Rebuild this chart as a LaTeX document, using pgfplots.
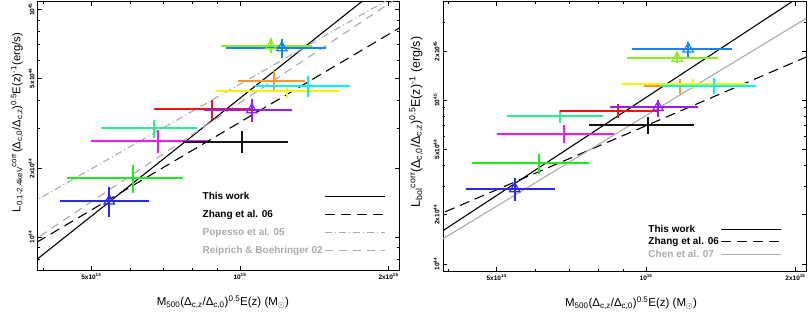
\documentclass[border=0pt]{standalone}
\usepackage{fontspec}
\setmainfont{Liberation Sans}
\usepackage{pgfplots}
\pgfplotsset{compat=1.18}
\definecolor{cblue}{RGB}{40,40,245}
\definecolor{cgreen}{RGB}{30,235,30}
\definecolor{cspring}{RGB}{40,240,140}
\definecolor{cmag}{RGB}{250,20,250}
\definecolor{cblack}{RGB}{20,20,20}
\definecolor{cred}{RGB}{240,20,20}
\definecolor{cpurple}{RGB}{150,30,250}
\definecolor{cyellow}{RGB}{245,245,0}
\definecolor{corange}{RGB}{255,150,40}
\definecolor{ccyan}{RGB}{0,245,245}
\definecolor{cchart}{RGB}{140,235,30}
\definecolor{cdodger}{RGB}{20,130,250}
\definecolor{lgray}{RGB}{170,170,170}
% #1 colour, #2 x, #3 y, #4 x low, #5 x high, #6 y low, #7 y high
\newcommand{\datapt}[7]{%
\addplot[forget plot, color=#1, line width=2pt] coordinates {(#4,#3) (#5,#3)};
\addplot[forget plot, color=#1, line width=2pt] coordinates {(#2,#6) (#2,#7)};}
\newcommand{\tri}[3]{%
\addplot[forget plot, color=#1, only marks, mark=triangle, mark size=6pt, mark options={solid, line width=1.2pt}] coordinates {(#2,#3)};}
\begin{document}
\begin{tikzpicture}
\path[use as bounding box] (0pt,0pt) rectangle (809pt,314pt);
% ---------------- left panel ----------------
\begin{axis}[at={(38pt,44pt)}, anchor=south west, width=361pt, height=268pt,
  scale only axis, xmode=log, ymode=log, xmin=0.39, xmax=2.1,
  tick align=inside, tick pos=both, major tick length=4pt, minor tick length=2.5pt,
  every tick/.style={black, line width=0.8pt}, axis line style={line width=1pt},
  xtick={0.5,1,2}, xticklabels={5x10\textsuperscript{14},10\textsuperscript{15},2x10\textsuperscript{15}},
  minor xtick={0.4,0.6,0.7,0.8,0.9},
  tick label style={font=\bfseries\fontsize{6.5}{7}\selectfont},
  yticklabel style={rotate=90, anchor=south},
  legend cell align=left, legend plot pos=right,
  legend image code/.code={\draw[#1] (0pt,0pt) -- (60pt,0pt);},
  legend style={draw=none, fill=none, font=\bfseries\fontsize{10}{12}\selectfont, row sep=5.5pt, inner sep=0pt,
    at={(0.45,0.30)}, anchor=north west},
  ymin=0.716, ymax=10.8,
  ytick={1,2,5,10}, yticklabels={10\textsuperscript{44},2x10\textsuperscript{44},5x10\textsuperscript{44},10\textsuperscript{45}},
  minor ytick={0.8,0.9,3,4,6,7,8,9},
  xlabel={M\textsubscript{500}(Δ\textsubscript{c,z}/Δ\textsubscript{c,0})\textsuperscript{0.5}E(z) (M\textsubscript{$\odot$})},
  xlabel style={at={(axis description cs:0.512,-0.12)}, anchor=center, font=\fontsize{11.5}{13}\selectfont},
  ylabel={L\textsubscript{0.1-2.4keV}\textsuperscript{corr}(Δ\textsubscript{c,0}/Δ\textsubscript{c,z})\textsuperscript{0.5}E(z)\textsuperscript{-1}(erg/s)},
  ylabel style={at={(axis description cs:-0.058,0.55)}, anchor=center, font=\fontsize{11.3}{12}\selectfont}]
\addplot[black, line width=1.1pt] coordinates {(0.3,0.512) (3,27.04)};
\addlegendentry{This work}
\addplot[black, line width=1.1pt, dash pattern=on 10pt off 6pt] coordinates {(0.3,0.682) (3,13.09)};
\addlegendentry{Zhang et al. 06}
\addplot[lgray, line width=1.1pt, dash pattern=on 7pt off 3pt on 1pt off 3pt] coordinates {(0.3,1.059) (3,18.32)};
\addlegendentry{\textcolor{lgray}{Popesso et al. 05}}
\addplot[lgray, line width=1.1pt, dash pattern=on 8pt off 6pt] coordinates {(0.3,0.682) (3,19.05)};
\addlegendentry{\textcolor{lgray}{Reiprich \& Boehringer 02}}
\datapt{cblue}{0.544}{1.44}{0.433}{0.655}{1.225}{1.66}
\tri{cblue}{0.544}{1.44}
\datapt{cgreen}{0.608}{1.82}{0.447}{0.767}{1.56}{2.08}
\datapt{cspring}{0.670}{3.02}{0.524}{0.818}{2.73}{3.28}
\datapt{cmag}{0.683}{2.65}{0.500}{0.862}{2.34}{2.96}
\datapt{cred}{0.878}{3.66}{0.670}{1.062}{3.28}{4.01}
\datapt{cblack}{1.009}{2.62}{0.767}{1.25}{2.34}{2.93}
\datapt{cpurple}{1.057}{3.63}{0.846}{1.274}{3.21}{4.06}
\tri{cpurple}{1.057}{3.63}
\datapt{cchart}{1.155}{6.94}{0.915}{1.398}{6.47}{7.53}
\tri{cchart}{1.155}{6.94}
\datapt{cdodger}{1.216}{6.80}{0.937}{1.492}{6.14}{7.45}
\tri{cdodger}{1.216}{6.80}
\datapt{corange}{1.171}{4.87}{0.991}{1.353}{4.35}{5.39}
\datapt{cyellow}{1.244}{4.40}{0.894}{1.592}{4.10}{4.67}
\datapt{ccyan}{1.372}{4.63}{1.072}{1.668}{4.14}{5.12}
\end{axis}
% ---------------- right panel ----------------
\begin{axis}[at={(443pt,43pt)}, anchor=south west, width=363pt, height=269pt,
  scale only axis, xmode=log, ymode=log, xmin=0.39, xmax=2.1,
  tick align=inside, tick pos=both, major tick length=4pt, minor tick length=2.5pt,
  every tick/.style={black, line width=0.8pt}, axis line style={line width=1pt},
  xtick={0.5,1,2}, xticklabels={5x10\textsuperscript{14},10\textsuperscript{15},2x10\textsuperscript{15}},
  minor xtick={0.4,0.6,0.7,0.8,0.9},
  tick label style={font=\bfseries\fontsize{6.5}{7}\selectfont},
  yticklabel style={rotate=90, anchor=south},
  legend cell align=left, legend plot pos=right,
  legend image code/.code={\draw[#1] (0pt,0pt) -- (60pt,0pt);},
  legend style={draw=none, fill=none, font=\bfseries\fontsize{10}{12}\selectfont, row sep=0pt, inner sep=0pt,
    at={(0.56,0.18)}, anchor=north west},
  ymin=0.906, ymax=39.9,
  ytick={1,2,5,10,20}, yticklabels={10\textsuperscript{44},2x10\textsuperscript{44},5x10\textsuperscript{44},10\textsuperscript{45},2x10\textsuperscript{45}},
  minor ytick={3,4,6,7,8,9,30},
  xlabel={M\textsubscript{500}(Δ\textsubscript{c,z}/Δ\textsubscript{c,0})\textsuperscript{0.5}E(z) (M\textsubscript{$\odot$})},
  xlabel style={at={(axis description cs:0.518,-0.12)}, anchor=center, font=\fontsize{11.5}{13}\selectfont},
  ylabel={L\textsubscript{bol}\textsuperscript{corr}(Δ\textsubscript{c,0}/Δ\textsubscript{c,z})\textsuperscript{0.5}E(z)\textsuperscript{-1} (erg/s)},
  ylabel style={at={(axis description cs:-0.074,0.554)}, anchor=center, font=\fontsize{12.5}{13}\selectfont}]
\addplot[black, line width=1.1pt] coordinates {(0.3,0.948) (3,92.7)};
\addlegendentry{This work}
\addplot[black, line width=1.1pt, dash pattern=on 10pt off 6pt] coordinates {(0.3,1.462) (3,29.2)};
\addlegendentry{Zhang et al. 06}
\addplot[lgray, line width=1.1pt] coordinates {(0.3,0.880) (3,61.0)};
\addlegendentry{\textcolor{lgray}{Chen et al. 07}}
\datapt{cblue}{0.544}{2.88}{0.433}{0.655}{2.43}{3.37}
\tri{cblue}{0.544}{2.88}
\datapt{cgreen}{0.608}{4.16}{0.447}{0.767}{3.57}{4.73}
\datapt{cspring}{0.670}{7.98}{0.524}{0.818}{7.23}{8.68}
\datapt{cmag}{0.683}{6.27}{0.500}{0.862}{5.45}{7.02}
\datapt{cred}{0.878}{8.56}{0.670}{1.062}{7.75}{9.45}
\datapt{cblack}{1.009}{7.02}{0.767}{1.25}{6.27}{7.86}
\datapt{cpurple}{1.057}{9.06}{0.846}{1.274}{7.86}{10.0}
\tri{cpurple}{1.057}{9.06}
\datapt{cchart}{1.155}{18.1}{0.915}{1.398}{16.9}{19.7}
\tri{cchart}{1.155}{18.1}
\datapt{cdodger}{1.216}{20.6}{0.937}{1.492}{18.4}{22.7}
\tri{cdodger}{1.216}{20.6}
\datapt{corange}{1.171}{12.19}{0.991}{1.353}{10.9}{13.45}
\datapt{cyellow}{1.244}{12.5}{0.894}{1.592}{11.68}{13.45}
\datapt{ccyan}{1.372}{12.19}{1.072}{1.668}{10.9}{13.65}
\end{axis}
\end{tikzpicture}
\end{document}
